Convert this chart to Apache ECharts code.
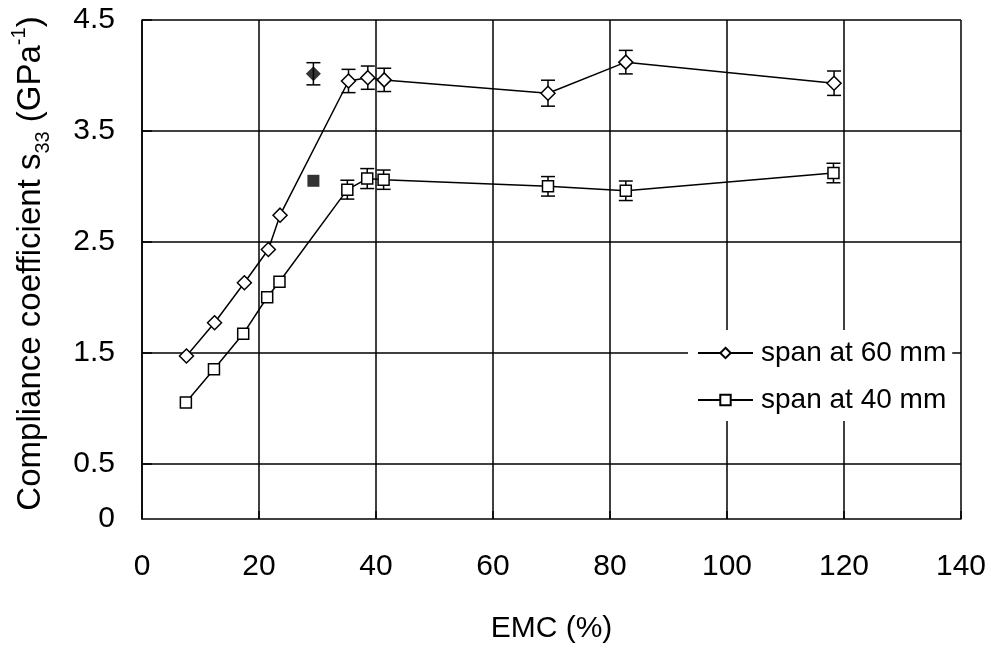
<!DOCTYPE html>
<html>
<head>
<meta charset="utf-8">
<script src="https://cdn.jsdelivr.net/npm/echarts@6/dist/echarts.min.js"></script>
<style>
html,body{margin:0;padding:0;background:#fff;}
#chart{width:991px;height:649px;}
</style>
</head>
<body>
<div id="chart"></div>
<script>
// EMC (%) values
const emc60 = [7.6, 12.4, 17.5, 21.6, 23.6, 35.3, 38.6, 41.4, 69.4, 82.7, 118.3];
const emc40 = [7.5, 12.3, 17.3, 21.4, 23.5, 35.1, 38.5, 41.3, 69.4, 82.7, 118.2];
// Compliance coefficient s33 (GPa^-1)
const s60 = [1.47, 1.77, 2.13, 2.43, 2.74, 3.95, 3.98, 3.96, 3.84, 4.12, 3.93];
const err60 = [0, 0, 0, 0, 0, 0.105, 0.105, 0.105, 0.117, 0.106, 0.11];
const s40 = [1.05, 1.35, 1.67, 2.00, 2.14, 2.97, 3.07, 3.06, 3.00, 2.96, 3.12];
const err40 = [0, 0, 0, 0, 0, 0.085, 0.09, 0.087, 0.088, 0.088, 0.088];
// separate filled points
const filled60 = [29.3, 4.015];
const filledErr60 = 0.10;
const filled40 = [29.3, 3.05];
// axis tick labels
const xTicks = [0, 20, 40, 60, 80, 100, 120, 140];
const yLabels = [0, 0.5, 1.5, 2.5, 3.5, 4.5];
const yGrid = [0.5, 1.5, 2.5, 3.5, 4.5];

const FONT = 'Liberation Sans, Arial, sans-serif';

function zip(xs, ys) { return xs.map((x, i) => [x, ys[i]]); }
function errData(xs, ys, es) {
  const out = [];
  xs.forEach((x, i) => { if (es[i] > 0) out.push([x, ys[i], es[i]]); });
  return out;
}

function errRender(params, api) {
  const x = api.value(0), y = api.value(1), e = api.value(2);
  const top = api.coord([x, y + e]);
  const bot = api.coord([x, y - e]);
  const hw = 7;
  const st = { stroke: '#000', lineWidth: 1.5 };
  return {
    type: 'group',
    children: [
      { type: 'line', shape: { x1: top[0], y1: top[1], x2: bot[0], y2: bot[1] }, style: st },
      { type: 'line', shape: { x1: top[0] - hw, y1: top[1], x2: top[0] + hw, y2: top[1] }, style: st },
      { type: 'line', shape: { x1: bot[0] - hw, y1: bot[1], x2: bot[0] + hw, y2: bot[1] }, style: st }
    ]
  };
}

const chart = echarts.init(document.getElementById('chart'), null, { renderer: 'canvas' });
chart.setOption({
  backgroundColor: '#fff',
  animation: false,
  textStyle: { fontFamily: FONT, color: '#000' },
  grid: { left: 142, right: 30, top: 20, bottom: 127, containLabel: false },
  legend: {
    orient: 'vertical',
    left: 688,
    top: 330,
    padding: [9, 6, 7, 9],
    backgroundColor: '#fff',
    itemWidth: 55,
    itemHeight: 13,
    itemGap: 19,
    data: ['span at 60 mm', 'span at 40 mm'],
    textStyle: { fontSize: 28, fontFamily: FONT, color: '#000', padding: [0, 0, 0, 3] }
  },
  xAxis: {
    type: 'value',
    min: 0, max: 140, interval: 20,
    name: 'EMC (%)',
    nameLocation: 'middle',
    nameGap: 95,
    nameTextStyle: { fontSize: 30, fontFamily: FONT, color: '#000' },
    axisLine: { show: true, lineStyle: { color: '#000', width: 1.5 } },
    axisTick: { show: true, inside: true, length: 8, lineStyle: { color: '#000', width: 1.5 } },
    axisLabel: { fontSize: 30, fontFamily: FONT, color: '#000', margin: 33 },
    splitLine: { show: true, lineStyle: { color: '#000', width: 1.5 } }
  },
  yAxis: {
    type: 'value',
    min: 0, max: 4.5,
    name: 'Compliance coefficient s{sub|33} (GPa{sup|-1})',
    nameLocation: 'middle',
    nameGap: 89,
    nameRotate: 90,
    nameTextStyle: {
      fontSize: 33, fontFamily: FONT, color: '#000', lineHeight: 44,
      padding: [0, 0, 0, 12],
      rich: {
        sub: { fontSize: 20, fontFamily: FONT, color: '#000', verticalAlign: 'bottom', lineHeight: 24 },
        sup: { fontSize: 20, fontFamily: FONT, color: '#000', verticalAlign: 'top', lineHeight: 20 }
      }
    },
    axisLine: { show: true, lineStyle: { color: '#000', width: 1.5 } },
    axisTick: { show: true, inside: true, length: 10, customValues: yGrid, lineStyle: { color: '#000', width: 1.5 } },
    axisLabel: { fontSize: 30, fontFamily: FONT, color: '#000', margin: 27, customValues: yLabels },
    splitLine: { show: true, lineStyle: { color: '#000', width: 1.5 } }
  },
  series: [
    {
      type: 'custom', name: 'err60', renderItem: errRender, z: 1,
      data: errData(emc60, s60, err60).concat([[filled60[0], filled60[1], filledErr60]])
    },
    {
      type: 'custom', name: 'err40', renderItem: errRender, z: 1,
      data: errData(emc40, s40, err40)
    },
    {
      type: 'line', name: 'span at 60 mm', z: 3,
      data: zip(emc60, s60),
      symbol: 'diamond', symbolSize: [14, 14], showSymbol: true,
      lineStyle: { color: '#000', width: 1.5 },
      itemStyle: { color: '#fff', borderColor: '#000', borderWidth: 1.5 }
    },
    {
      type: 'line', name: 'span at 40 mm', z: 3,
      data: zip(emc40, s40),
      symbol: 'rect', symbolSize: 11, showSymbol: true,
      lineStyle: { color: '#000', width: 1.5 },
      itemStyle: { color: '#fff', borderColor: '#000', borderWidth: 1.5 }
    },
    {
      type: 'scatter', name: 'filled60', z: 3,
      data: [filled60], symbol: 'diamond', symbolSize: 15,
      itemStyle: { color: '#000' }
    },
    {
      type: 'scatter', name: 'filled40', z: 3,
      data: [filled40], symbol: 'rect', symbolSize: 12,
      itemStyle: { color: '#000' }
    }
  ]
});
</script>
</body>
</html>
